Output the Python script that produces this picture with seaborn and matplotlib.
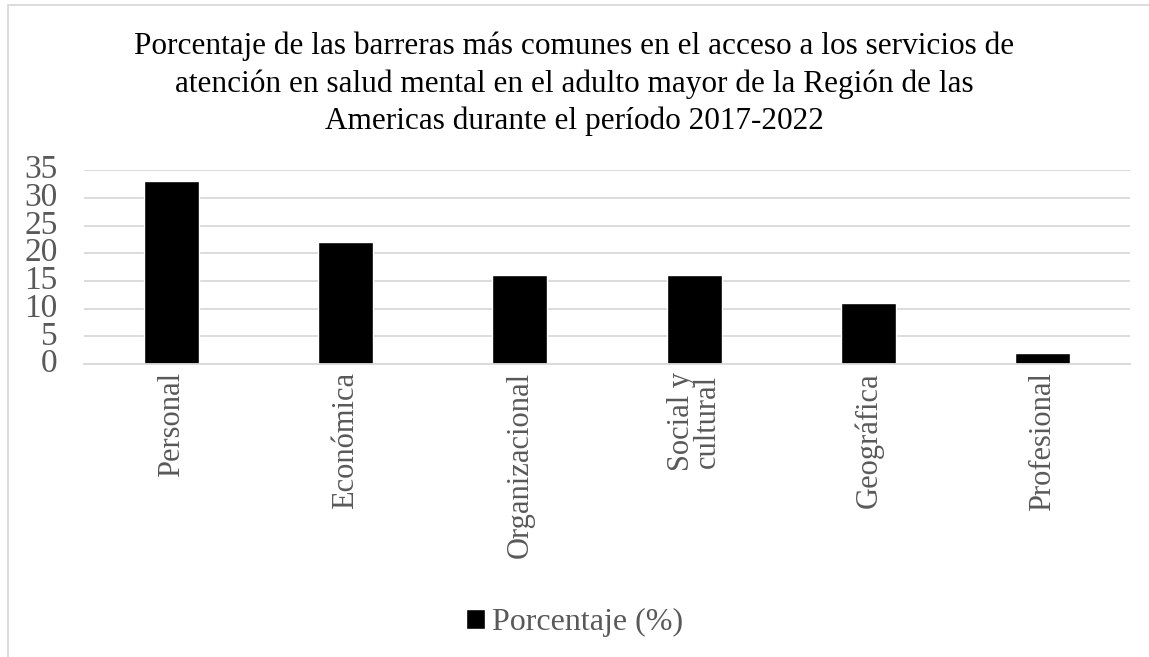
import matplotlib
matplotlib.use("Agg")
import pandas as pd
import seaborn as sns
from matplotlib import pyplot as plt
from matplotlib.patches import Rectangle

categories = ["Personal", "Económica", "Organizacional", "Social y\ncultural", "Geográfica", "Profesional"]
values = [33, 22, 16, 16, 11, 2]
series_name = "Porcentaje (%)"
y_ticks = [0, 5, 10, 15, 20, 25, 30, 35]
title = ("Porcentaje de las barreras más comunes en el acceso a los servicios de\n"
         "atención en salud mental en el adulto mayor de la Región de las\n"
         "Americas durante el período 2017-2022")

df = pd.DataFrame({"categoria": categories, "valor": values})

sns.set_style("white")
plt.rcParams["font.family"] = ["Liberation Serif", "DejaVu Serif"]

grey = "#595959"
fig = plt.figure(figsize=(11.49, 6.57), dpi=100)
ax = fig.add_axes([0.0731, 0.446, 0.9104, 0.295])

sns.barplot(data=df, x="categoria", y="valor", color="black", width=0.315,
            saturation=1, ax=ax, label=series_name)

ax.set_ylim(0, 35)
ax.set_yticks(y_ticks)
ax.set_xlim(-0.5, len(categories) - 0.5)
ax.yaxis.grid(True, color="#d9d9d9", linewidth=1.3)
ax.set_axisbelow(True)
for s in ["top", "right", "left"]:
    ax.spines[s].set_visible(False)
ax.spines["bottom"].set_color("#d9d9d9")
ax.spines["bottom"].set_linewidth(1.3)

ax.tick_params(axis="y", labelsize=24, labelcolor=grey, length=0, pad=19)
ax.tick_params(axis="x", labelsize=22, labelcolor=grey, length=0, pad=6)
plt.setp(ax.get_xticklabels(), rotation=90, ha="center", va="top", linespacing=0.85)
for lbl in ax.get_yticklabels():
    lbl.set_verticalalignment("center")
ax.set_xlabel("")
ax.set_ylabel("")

fig.text(0.5, 0.952, title, ha="center", va="top", fontsize=22.5, color="black",
         linespacing=1.36)

leg = ax.legend(loc="center", bbox_to_anchor=(0.5, 0.052), bbox_transform=fig.transFigure,
                frameon=False, fontsize=23, handlelength=0.6, handleheight=0.6,
                handletextpad=0.2)
for t in leg.get_texts():
    t.set_color(grey)

fig.patches.append(Rectangle((0.007, -0.01), 1.1, 1.002, transform=fig.transFigure,
                             fill=False, edgecolor="#d9d9d9", linewidth=1.3))

fig.savefig("out.png", dpi=100)
